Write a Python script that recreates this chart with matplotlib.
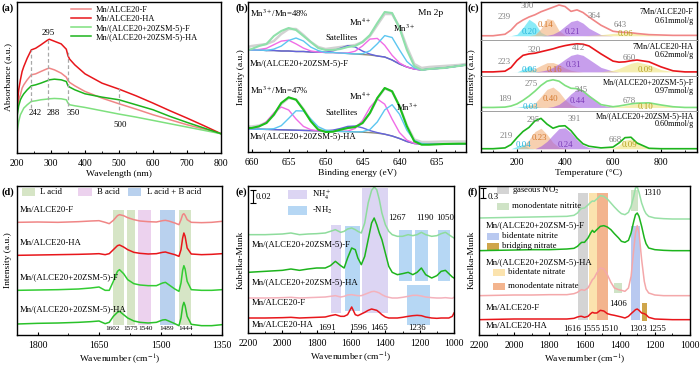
import matplotlib
matplotlib.use("Agg")
import matplotlib.pyplot as plt
from matplotlib.patches import Rectangle
from matplotlib.ticker import MultipleLocator

plt.rcParams["font.family"] = ["Liberation Serif", "DejaVu Serif"]
plt.rcParams["mathtext.fontset"] = "stix"

# ---------------------------------------------------------------------------
# colours
# ---------------------------------------------------------------------------
C_PINK = "#f08686"
C_RED = "#e8161b"
C_LGREEN = "#7ee07e"
C_GREEN = "#1db41d"

NAMES = ["Mn/ALCE20-F", "Mn/ALCE20-HA",
         "Mn/(ALCE20+20ZSM-5)-F", "Mn/(ALCE20+20ZSM-5)-HA"]

# ---------------------------------------------------------------------------
# (a) UV-vis
# ---------------------------------------------------------------------------
uv_nm = [200, 205, 210, 215, 220, 230, 242, 255, 270, 288, 295, 310, 330,
         345, 350, 355, 370, 400, 450, 500, 550, 600, 650, 700, 750, 800]
uv_alce_f = [125, 160, 175, 195, 205, 220, 235, 238, 245, 253, 255, 250, 240,
             228, 218, 212, 202, 185, 165, 148, 132, 115, 100, 85, 72, 58]
uv_alce_ha = [135, 190, 220, 245, 260, 285, 310, 315, 325, 338, 342, 336, 328,
              312, 292, 282, 265, 238, 210, 192, 172, 150, 127, 105, 82, 58]
uv_zsm_f = [60, 95, 115, 125, 135, 145, 155, 157, 160, 162, 163, 164, 163,
            160, 150, 145, 142, 137, 127, 117, 108, 98, 88, 78, 68, 58]
uv_zsm_ha = [110, 142, 160, 170, 178, 190, 202, 205, 210, 217, 220, 222, 220,
             215, 202, 198, 190, 178, 168, 160, 145, 130, 110, 92, 75, 58]
uv_dash_x = [242, 290, 350, 500]
uv_dash_lo = [135, 140, 140, 130]
uv_dash_hi = [310, 340, 310, 195]

# ---------------------------------------------------------------------------
# (b) XPS Mn 2p
# ---------------------------------------------------------------------------
be = [660.5, 660, 659, 658, 657, 656, 655, 654, 653, 652, 651, 650, 649, 648,
      647, 646, 645, 644, 643, 642, 641, 640, 639, 638, 637, 636, 634, 632, 631]
xf_env = [103, 104, 107, 109, 117, 122, 125, 123, 117, 111, 105, 103, 103, 104,
          106, 107, 111, 118, 130, 141, 140, 125, 103, 87, 83, 84, 85, 87, 88]
xf_raw = [106, 107, 108, 109, 112, 119, 124, 124, 118, 111, 106, 104, 105, 106,
          107, 108, 111, 117, 128, 139, 139, 126, 106, 89, 85, 86, 87, 88, 89]
xf_bg = [103, 103, 103, 102.5, 102.5, 102, 102, 101.5, 101.5, 101, 101, 100.5,
         100.5, 100, 99.5, 99, 98.5, 98, 97, 96, 93, 89, 86, 84, 83, 84, 85, 87, 88]
xf_mn4 = [103, 103, 103.5, 104.7, 108.3, 111.9, 112.8, 109.1, 104.9, 102, 101,
          100.5, 100.5, 100, 100, 101.8, 107.1, 113.9, 114.6, 107.7, 97.7, 90.1,
          86, 84, 83, 84, 85, 87, 88]
xf_mn3 = [103, 103, 103, 102.5, 103.9, 106.9, 112.5, 115, 112, 105.9, 102.4,
          100.5, 100.5, 100, 99.5, 99, 99.3, 102.2, 109.2, 117.4, 115.5, 103.1,
          91.5, 85.2, 83, 84, 85, 87, 88]
xf_sat = [103, 103, 103, 102.5, 102.5, 102, 102, 101.5, 101.5, 101, 101, 100.8,
          102.2, 104.8, 107.3, 106, 101.9, 98.9, 97, 96, 93, 89, 86, 84, 83, 84,
          85, 87, 88]
xh_env = [25, 25, 26.7, 30, 38.3, 50, 55.7, 53.3, 43.3, 31.7, 23.3, 21, 21.3,
          23.3, 25, 26, 30, 40, 55, 65, 61.7, 46.7, 26.7, 11.7, 8.3, 8.3, 9, 9.3, 9.3]
xh_raw = [26.5, 26.5, 27.5, 30.5, 38, 49, 55, 53.5, 44, 32.5, 24.5, 22, 22,
          23.5, 25, 26, 30, 40, 54.5, 64.5, 61.5, 47, 27.5, 13.5, 11, 11, 11.5,
          11.5, 11.5]
xh_bg = [24, 24, 23.8, 23.6, 23.4, 23.2, 23, 22.8, 22.6, 22.4, 22.2, 22, 21.8,
         21.6, 21.4, 21.1, 20.8, 20.4, 19.8, 18.8, 17, 14.5, 11.5, 9.5, 9, 9, 9,
         9.2, 9.3]
xh_mn4 = [24, 24, 26.1, 31.4, 40.1, 46, 43, 34, 26.6, 23.3, 22.2, 22, 21.8,
          21.6, 21.9, 24.6, 32.5, 45.6, 54, 48.8, 33.9, 20.5, 12.9, 9.6, 9, 9, 9,
          9.2, 9.3]
xh_mn3 = [24, 24, 23.8, 23.6, 24.3, 27.3, 34.6, 42.2, 42, 34, 26.3, 22.9, 21.8,
          21.6, 21.4, 21.1, 21.3, 23.5, 31.1, 43.1, 48.3, 38.8, 22.8, 12.6, 9.5,
          9, 9, 9.2, 9.3]
xh_sat = [24, 24, 23.8, 23.6, 23.4, 23.2, 23, 22.8, 22.6, 22.4, 22.2, 22.2,
          22.9, 24.5, 26.6, 27, 25.2, 22.4, 20.4, 18.8, 17, 14.5, 11.5, 9.5, 9, 9,
          9, 9.2, 9.3]

# ---------------------------------------------------------------------------
# (c) H2-TPR, four stacked profiles (fraction of each strip)
# ---------------------------------------------------------------------------
tpr_t = [50, 100, 150, 175, 200, 225, 250, 275, 300, 325, 350, 375, 400, 425,
         450, 475, 500, 550, 600, 625, 650, 675, 700, 750, 800, 850, 900, 950]
tpr_names = ["7Mn/ALCE20-F", "7Mn/ALCE20-HA",
             "Mn/(ALCE20+20ZSM-5)-F", "Mn/(ALCE20+20ZSM-5)-HA"]
tpr_uptake = ["0.61mmol/g", "0.62mmol/g", "0.97mmol/g", "0.60mmol/g"]
tpr_name_y = [(0.73, 0.5), (0.79, 0.57), (0.8, 0.57), (0.88, 0.69)]
tpr_base = [0.1, 0.1, 0.1, 0.08]
tpr_env = [
    [0.1, 0.1, 0.14, 0.25, 0.42, 0.52, 0.6, 0.66, 0.74, 0.8, 0.86, 0.92, 0.88,
     0.75, 0.79, 0.72, 0.6, 0.38, 0.22, 0.2, 0.19, 0.18, 0.16, 0.13, 0.12, 0.11,
     0.11, 0.11],
    [0.1, 0.1, 0.12, 0.22, 0.42, 0.56, 0.6, 0.62, 0.66, 0.7, 0.74, 0.79, 0.83,
     0.86, 0.88, 0.87, 0.82, 0.6, 0.4, 0.37, 0.38, 0.41, 0.43, 0.38, 0.24, 0.13,
     0.1, 0.1],
    [0.1, 0.1, 0.11, 0.14, 0.2, 0.3, 0.42, 0.56, 0.72, 0.84, 0.88, 0.84, 0.72,
     0.64, 0.63, 0.56, 0.42, 0.18, 0.12, 0.14, 0.17, 0.2, 0.22, 0.23, 0.17, 0.12,
     0.1, 0.1],
    [0.08, 0.08, 0.1, 0.18, 0.35, 0.5, 0.6, 0.76, 0.82, 0.68, 0.58, 0.63, 0.64,
     0.52, 0.34, 0.2, 0.14, 0.1, 0.12, 0.22, 0.35, 0.36, 0.22, 0.09, 0.08, 0.08,
     0.08, 0.08],
]
tpr_cyan = [
    [0, 0, 0, 0.003, 0.04, 0.22, 0.44, 0.33, 0.09, 0.009, 0, 0, 0, 0, 0, 0, 0,
     0, 0, 0, 0, 0, 0, 0, 0, 0, 0, 0],
    [0, 0, 0, 0, 0.002, 0.074, 0.17, 0.024, 0, 0, 0, 0, 0, 0, 0, 0, 0, 0, 0, 0,
     0, 0, 0, 0, 0, 0, 0, 0],
    [0, 0, 0, 0, 0.004, 0.037, 0.08, 0.037, 0.004, 0, 0, 0, 0, 0, 0, 0, 0, 0, 0,
     0, 0, 0, 0, 0, 0, 0, 0, 0],
    [0, 0, 0, 0, 0.054, 0.11, 0.014, 0, 0, 0, 0, 0, 0, 0, 0, 0, 0, 0, 0, 0, 0, 0,
     0, 0, 0, 0, 0, 0],
]
tpr_orange = [
    [0, 0, 0, 0, 0, 0, 0, 0.028, 0.19, 0.46, 0.42, 0.14, 0.017, 0, 0, 0, 0, 0,
     0, 0, 0, 0, 0, 0, 0, 0, 0, 0],
    [0, 0, 0, 0, 0, 0.01, 0.036, 0.095, 0.18, 0.255, 0.26, 0.2, 0.11, 0.045,
     0.014, 0, 0, 0, 0, 0, 0, 0, 0, 0, 0, 0, 0, 0],
    [0, 0, 0, 0, 0, 0.006, 0.035, 0.125, 0.31, 0.51, 0.575, 0.44, 0.225, 0.078,
     0.018, 0, 0, 0, 0, 0, 0, 0, 0, 0, 0, 0, 0, 0],
    [0, 0, 0, 0, 0, 0.07, 0.22, 0.42, 0.5, 0.35, 0.15, 0.035, 0.01, 0, 0, 0, 0,
     0, 0, 0, 0, 0, 0, 0, 0, 0, 0, 0],
]
tpr_purple = [
    [0, 0, 0, 0, 0, 0, 0, 0, 0, 0.012, 0.045, 0.125, 0.255, 0.38, 0.417, 0.336,
     0.2, 0.028, 0, 0, 0, 0, 0, 0, 0, 0, 0, 0],
    [0, 0, 0, 0, 0, 0, 0, 0, 0.022, 0.057, 0.125, 0.23, 0.35, 0.46, 0.5, 0.46,
     0.35, 0.125, 0.022, 0, 0, 0, 0, 0, 0, 0, 0, 0],
    [0, 0, 0, 0, 0, 0, 0, 0, 0, 0, 0.026, 0.087, 0.214, 0.384, 0.51, 0.49, 0.35,
     0.07, 0.004, 0, 0, 0, 0, 0, 0, 0, 0, 0],
    [0, 0, 0, 0, 0, 0, 0, 0, 0.07, 0.18, 0.34, 0.49, 0.51, 0.39, 0.22, 0.09,
     0.026, 0, 0, 0, 0, 0, 0, 0, 0, 0, 0, 0],
]
tpr_yellow = [
    [0, 0, 0, 0, 0, 0, 0, 0, 0, 0, 0, 0, 0, 0, 0, 0, 0.008, 0.029, 0.062, 0.075,
     0.08, 0.075, 0.062, 0.029, 0.008, 0, 0, 0],
    [0, 0, 0, 0, 0, 0, 0, 0, 0, 0, 0, 0, 0, 0, 0, 0, 0, 0.005, 0.045, 0.097,
     0.17, 0.24, 0.28, 0.2, 0.063, 0.009, 0, 0],
    [0, 0, 0, 0, 0, 0, 0, 0, 0, 0, 0, 0, 0, 0, 0, 0, 0, 0.001, 0.012, 0.028,
     0.053, 0.085, 0.115, 0.123, 0.066, 0.018, 0.002, 0],
    [0, 0, 0, 0, 0, 0, 0, 0, 0, 0, 0, 0, 0, 0, 0, 0, 0, 0, 0.02, 0.09, 0.21,
     0.24, 0.14, 0.006, 0, 0, 0, 0],
]
# peak-temperature labels and H2-consumption labels: (text, x, y)
tpr_peak_lbl = [
    [("239", 146, 0.61), ("300", 243, 0.9), ("364", 521, 0.63), ("643", 629, 0.38)],
    [("223", 146, 0.37), ("320", 271, 0.7), ("412", 458, 0.75), ("660", 667, 0.5)],
    [("189", 149, 0.33), ("275", 260, 0.76), ("345", 469, 0.59), ("678", 667, 0.29)],
    [("219", 153, 0.4), ("295", 268, 0.78), ("391", 440, 0.8), ("668", 611, 0.3)],
]
tpr_area_lbl = [
    [("0.20", 250, 0.2), ("0.14", 317, 0.38), ("0.21", 433, 0.2), ("0.06", 650, 0.16)],
    [("0.06", 250, 0.14), ("0.16", 354, 0.14), ("0.31", 437, 0.28), ("0.09", 736, 0.14)],
    [("0.03", 257, 0.11), ("0.40", 340, 0.33), ("0.44", 451, 0.29), ("0.10", 736, 0.11)],
    [("0.04", 225, 0.17), ("0.23", 294, 0.35), ("0.24", 403, 0.17), ("0.09", 667, 0.17)],
]
tpr_strip_px = [2, 39.5, 75.5, 111, 152]

# ---------------------------------------------------------------------------
# (d) pyridine-IR
# ---------------------------------------------------------------------------
py_wn = [1850, 1800, 1750, 1700, 1670, 1650, 1635, 1625, 1615, 1605, 1600,
         1590, 1580, 1565, 1550, 1530, 1510, 1495, 1488, 1480, 1465, 1455,
         1450, 1446, 1443, 1440, 1435, 1425, 1400, 1375, 1350]
py_alce_f = [338, 339, 338, 340, 342, 343, 338, 334, 344, 358, 361, 358, 352,
             346, 342, 340, 339, 343, 344, 342, 336, 331, 346, 361, 364, 359,
             346, 338, 337, 338, 341]
py_alce_ha = [239, 240, 241, 242, 243, 244, 241, 244, 256, 268, 270, 264, 256,
              248, 245, 243, 244, 248, 249, 246, 241, 236, 256, 291, 306, 296,
              261, 243, 241, 242, 244]
py_zsm_f = [134, 135, 136, 138, 141, 144, 134, 134, 161, 191, 196, 184, 166,
            154, 150, 148, 148, 156, 158, 151, 138, 131, 156, 194, 208, 198,
            161, 136, 134, 134, 136]
py_zsm_ha = [33, 35, 36, 38, 40, 42, 34, 38, 56, 68, 71, 61, 51, 42, 38, 36,
             38, 45, 46, 42, 34, 28, 51, 86, 98, 88, 56, 32, 28, 28, 31]
py_band_lo = [1589, 1562, 1523, 1465, 1426]
py_band_hi = [1616, 1582, 1555, 1501, 1455]
py_band_kind = ["L", "L", "B", "LB", "L"]
py_band_lbl = ["1602", "1575", "1540", "1489", "1444"]
py_band_lbl_x = [1617, 1574, 1537, 1484, 1440]

# ---------------------------------------------------------------------------
# (e) NH3-DRIFTS
# ---------------------------------------------------------------------------
nh_wn = [2200, 2100, 2000, 1950, 1900, 1850, 1800, 1750, 1720, 1691, 1660,
         1640, 1620, 1596, 1575, 1560, 1540, 1520, 1500, 1480, 1465, 1450,
         1435, 1420, 1400, 1380, 1360, 1330, 1300, 1267, 1240, 1215, 1190,
         1165, 1130, 1100, 1075, 1050, 1030, 1010, 1000]
nh_zsm_f = [295, 295, 297, 300, 295, 297, 298, 300, 305, 310, 302, 305, 312,
            315, 310, 305, 300, 330, 390, 428, 438, 430, 400, 360, 325, 305,
            295, 290, 290, 295, 292, 295, 302, 295, 290, 292, 298, 302, 295,
            288, 285]
nh_zsm_ha = [182, 185, 188, 192, 188, 192, 195, 195, 202, 215, 202, 195, 225,
             255, 250, 225, 205, 230, 280, 330, 345, 325, 300, 280, 240, 200,
             182, 175, 178, 182, 175, 182, 195, 175, 165, 172, 185, 188, 178,
             168, 165]
nh_alce_f = [105, 105, 106, 107, 105, 106, 107, 108, 110, 112, 108, 110, 114,
             115, 113, 112, 112, 116, 120, 124, 125, 123, 120, 115, 110, 107,
             105, 105, 107, 110, 113, 113, 111, 108, 106, 105, 105, 106, 105,
             104, 107]
nh_alce_ha = [45, 45, 46, 47, 45, 46, 47, 48, 52, 55, 50, 50, 55, 78, 55, 52,
              57, 62, 68, 72, 70, 68, 62, 55, 48, 45, 45, 45, 47, 50, 52, 53,
              52, 48, 45, 44, 45, 45, 45, 50, 60]
nh_band_lo = [1658, 1386, 1548, 1247, 1150, 1023, 1138]
nh_band_hi = [1716, 1538, 1635, 1320, 1227, 1095, 1276]
nh_band_ylo = [60, 60, 65, 155, 155, 155, 25]
nh_band_yhi = [325, 435, 320, 310, 310, 310, 145]
nh_band_kind = ["NH4", "NH4", "NH2", "NH2", "NH2", "NH2", "NH2"]

# ---------------------------------------------------------------------------
# (f) NO + O2 DRIFTS
# ---------------------------------------------------------------------------
no_wn = [2200, 2100, 2000, 1900, 1800, 1700, 1660, 1640, 1625, 1616, 1600,
         1580, 1565, 1555, 1545, 1530, 1510, 1490, 1470, 1450, 1430, 1406,
         1390, 1370, 1350, 1335, 1320, 1310, 1300, 1290, 1275, 1260, 1250,
         1235, 1200, 1150, 1100, 1050, 1000]
no_zsm_f = [351, 352, 353, 354, 355, 356, 359, 366, 376, 380, 381, 390, 398,
            402, 401, 408, 418, 416, 408, 396, 384, 371, 364, 361, 368, 386,
            416, 441, 444, 428, 396, 374, 364, 356, 351, 349, 348, 348, 348]
no_zsm_ha = [253, 254, 255, 256, 256, 258, 260, 266, 274, 278, 278, 291, 306,
             314, 308, 316, 326, 328, 324, 316, 304, 291, 281, 278, 284, 306,
             341, 361, 366, 356, 326, 291, 274, 261, 256, 254, 253, 253, 253]
no_alce_f = [118, 119, 120, 120, 121, 121, 124, 128, 134, 136, 134, 141, 156,
             166, 171, 186, 201, 198, 181, 158, 141, 136, 134, 131, 141, 176,
             256, 306, 328, 306, 226, 161, 138, 126, 120, 118, 118, 118, 118]
no_alce_ha = [46, 47, 48, 48, 48, 48, 50, 54, 56, 56, 53, 56, 64, 68, 66, 66,
              74, 72, 64, 61, 59, 56, 54, 51, 56, 64, 71, 76, 78, 74, 66, 64,
              61, 53, 48, 47, 46, 46, 46]
no_band_lo = [1578, 1530, 1467, 1293, 1388, 1283, 1245]
no_band_hi = [1635, 1574, 1530, 1335, 1435, 1335, 1274]
no_band_ylo = [46, 46, 46, 371, 126, 46, 41]
no_band_yhi = [426, 426, 426, 436, 156, 326, 96]
no_band_col = ["#d4d4d4", "#fbe3ae", "#f3b48e", "#cfe3c6", "#cfe3c6",
               "#b9c9f0", "#cfa54a"]
no_band_lbl = ["1616", "1555", "1510", "1303", "1255"]
no_band_lbl_x = [1671, 1563, 1461, 1296, 1188]

# ---------------------------------------------------------------------------
# figure
# ---------------------------------------------------------------------------
fig = plt.figure(figsize=(7, 3.66), dpi=100)


def box(l, t, r, b):
    return [l / 700, 1 - b / 366, (r - l) / 700, (b - t) / 366]


def style(ax, major, minor):
    ax.set_yticks([])
    ax.xaxis.set_major_locator(MultipleLocator(major))
    ax.xaxis.set_minor_locator(MultipleLocator(minor))
    ax.tick_params(axis="x", which="both", direction="in", labelsize=7, pad=4)
    ax.tick_params(axis="x", which="major", length=2.5, width=0.8)
    ax.tick_params(axis="x", which="minor", length=1.5, width=0.6)
    for s in ax.spines.values():
        s.set_linewidth(1.0)


TXT = 6.3
LBL = 6.8

# ---- (a) ----
ax = fig.add_axes(box(17, 2, 221, 153))
ax.plot(uv_nm, uv_alce_f, color=C_PINK, lw=1.1, label=NAMES[0])
ax.plot(uv_nm, uv_alce_ha, color=C_RED, lw=1.1, label=NAMES[1])
ax.plot(uv_nm, uv_zsm_f, color=C_LGREEN, lw=1.1, label=NAMES[2])
ax.plot(uv_nm, uv_zsm_ha, color=C_GREEN, lw=1.1, label=NAMES[3])
ax.vlines(uv_dash_x, uv_dash_lo, uv_dash_hi, colors="#a8a8a8",
          linestyles=(0, (3, 2)), lw=0.9)
ax.text(293, 360, "295", fontsize=TXT, ha="center", va="center")
for x, s in [(254, "242"), (308, "288"), (366, "350")]:
    ax.text(x, 120, s, fontsize=TXT, ha="center", va="center")
ax.text(503, 83, "500", fontsize=TXT, ha="center", va="center")
ax.legend(loc="upper left", bbox_to_anchor=(0.265, 0.975), frameon=False,
          fontsize=6.0, handlelength=2.4, handletextpad=0.5, labelspacing=0.12,
          borderpad=0, borderaxespad=0)
ax.set_xlim(200, 800)
ax.set_ylim(0, 454)
style(ax, 100, 50)
ax.set_xlabel("Wavelength (nm)", fontsize=LBL, labelpad=2)

# ---- (b) ----
ax = fig.add_axes(box(248, 2, 466, 152))
for env, raw, bg, mn4, mn3, sat, env_c in [
        (xf_env, xf_raw, xf_bg, xf_mn4, xf_mn3, xf_sat, "#8fe0aa"),
        (xh_env, xh_raw, xh_bg, xh_mn4, xh_mn3, xh_sat, "#1cc01c")]:
    ax.plot(be, raw, color="#d2d2d2", lw=1.8)
    ax.plot(be, bg, color="#8d8c78", lw=1.0)
    ax.plot(be, sat, color="#6464dc", lw=1.0)
    ax.plot(be, mn4, color="#f06ce6", lw=1.0)
    ax.plot(be, mn3, color="#5cc6f0", lw=1.0)
    ax.plot(be, env, color=env_c, lw=1.5)
ax.text(660.2, 140, r"Mn$^{3+}$/Mn=48%", fontsize=TXT, va="center")
ax.text(635.8, 140, "Mn 2p", fontsize=6.8, ha="center", va="center")
ax.text(645.3, 131, r"Mn$^{4+}$", fontsize=TXT, ha="center", va="center")
ax.text(639.4, 125, r"Mn$^{3+}$", fontsize=TXT, ha="center", va="center")
ax.text(647.8, 115, "Satellites", fontsize=TXT, ha="center", va="center")
ax.text(660.2, 90, NAMES[2], fontsize=TXT, va="center")
ax.text(660.2, 63, r"Mn$^{3+}$/Mn=47%", fontsize=TXT, va="center")
ax.text(645.3, 57, r"Mn$^{4+}$", fontsize=TXT, ha="center", va="center")
ax.text(639.0, 46, r"Mn$^{3+}$", fontsize=TXT, ha="center", va="center")
ax.text(647.8, 40, "Satellites", fontsize=TXT, ha="center", va="center")
ax.text(660.2, 17, NAMES[3], fontsize=TXT, va="center")
ax.set_xlim(660.5, 631)
ax.set_ylim(1, 151)
style(ax, 5, 2.5)
ax.set_xlabel("Binding energy (eV)", fontsize=LBL, labelpad=2)

# ---- (c) ----
env_cols = [C_PINK, C_RED, C_LGREEN, C_GREEN]
fill_cols = ["#3fdff2", "#f3b27c", "#a25ee0", "#efe47c"]
txt_cols = ["#22b4dc", "#d4782c", "#7a3ab8", "#b4a020"]
for i in range(4):
    ax = fig.add_axes(box(481, tpr_strip_px[i], 697, tpr_strip_px[i + 1]))
    t = tpr_t
    b = tpr_base[i]
    for comp, fc in zip([tpr_cyan[i], tpr_orange[i], tpr_purple[i],
                         tpr_yellow[i]], fill_cols):
        ax.fill_between(t, b, [b + v for v in comp], color=fc, alpha=0.6, lw=0)
    ax.plot(t, tpr_env[i], color=env_cols[i], lw=1.2)
    for s, x, y in tpr_peak_lbl[i]:
        ax.text(x, y, s, fontsize=TXT, color="#808080", ha="center", va="center")
    for (s, x, y), tc in zip(tpr_area_lbl[i], txt_cols):
        ax.text(x, y, s, fontsize=TXT, color=tc, ha="center", va="center")
    ax.text(0.985, tpr_name_y[i][0], tpr_names[i], transform=ax.transAxes,
            fontsize=5.9, ha="right", va="center")
    ax.text(0.985, tpr_name_y[i][1], tpr_uptake[i], transform=ax.transAxes,
            fontsize=5.9, ha="right", va="center")
    ax.set_xlim(50, 950)
    ax.set_ylim(0, 1)
    style(ax, 200, 100)
    if i > 0:
        ax.spines["top"].set_color("#a0a0a0")
        ax.spines["top"].set_linewidth(0.7)
    if i < 3:
        ax.spines["bottom"].set_color("#a0a0a0")
        ax.spines["bottom"].set_linewidth(0.7)
        ax.tick_params(axis="x", which="both", bottom=False, labelbottom=False)
    else:
        ax.set_xlabel("Temperature (\u00b0C)", fontsize=LBL, labelpad=2)

# ---- (d) ----
ax = fig.add_axes(box(17, 186, 222, 335))
band_c = {"L": "#d6e5c6", "B": "#ecd2ee", "LB": "#b9d1ee"}
for lo, hi, k in zip(py_band_lo, py_band_hi, py_band_kind):
    ax.axvspan(lo, hi, ymin=0.07, ymax=0.84, color=band_c[k], lw=0)
ax.plot(py_wn, py_alce_f, color=C_PINK, lw=1.1)
ax.plot(py_wn, py_alce_ha, color=C_RED, lw=1.1)
ax.plot(py_wn, py_zsm_f, color="#33cc33", lw=1.1)
ax.plot(py_wn, py_zsm_ha, color="#2ac22a", lw=1.1)
for s, y in zip(NAMES, [376, 276, 173, 78]):
    ax.text(1843, y, s, fontsize=TXT, va="center")
for s, x in zip(py_band_lbl, py_band_lbl_x):
    ax.text(x, 19, s, fontsize=5.2, ha="center", va="center")
for x0, x1, k, s in [(0.024, 0.112, "L", "L acid"), (0.298, 0.39, "B", "B acid"),
                     (0.541, 0.634, "LB", "L acid + B acid")]:
    ax.add_patch(Rectangle((x0, 0.933), 0.066, 0.054, transform=ax.transAxes,
                           color=band_c[k], lw=0))
    ax.text(x1, 0.962, s, transform=ax.transAxes, fontsize=TXT, va="center")
ax.set_xlim(1850, 1350)
ax.set_ylim(0, 447)
style(ax, 150, 75)
ax.set_xlabel("Wavenumber (cm$^{-1}$)", fontsize=LBL, labelpad=2)

# ---- (e) ----
ax = fig.add_axes(box(248, 186, 454, 333))
nh_c = {"NH4": "#dcd5f3", "NH2": "#b6d7f4"}
for lo, hi, y0, y1, k in zip(nh_band_lo, nh_band_hi, nh_band_ylo, nh_band_yhi,
                             nh_band_kind):
    ax.axvspan(lo, hi, ymin=y0 / 441, ymax=y1 / 441, color=nh_c[k], lw=0)
ax.plot(nh_wn, nh_zsm_f, color="#8edc9c", lw=1.1)
ax.plot(nh_wn, nh_zsm_ha, color=C_GREEN, lw=1.1)
ax.plot(nh_wn, nh_alce_f, color="#f4b2bc", lw=1.1)
ax.plot(nh_wn, nh_alce_ha, color=C_RED, lw=1.1)
for s, y in zip([NAMES[2], NAMES[3], NAMES[0], NAMES[1]], [265, 152, 90, 25]):
    ax.text(2177, y, s, fontsize=TXT, va="center")
for s, x in [("1267", 1335), ("1190", 1170), ("1050", 1053)]:
    ax.text(x, 345, s, fontsize=TXT, ha="center", va="center")
for s, x in [("1691", 1737), ("1596", 1559), ("1465", 1437), ("1236", 1216)]:
    ax.text(x, 16, s, fontsize=TXT, ha="center", va="center")
ax.errorbar([2169], [410], yerr=[20], color="k", lw=0.8, capsize=2,
            capthick=0.8)
ax.text(2155, 408, "0.02", fontsize=TXT, va="center")
for y0, k, s, ys in [(0.912, "NH4", r"NH$_4^+$", 0.94),
                     (0.803, "NH2", r"-NH$_2$", 0.835)]:
    ax.add_patch(Rectangle((0.194, y0), 0.092, 0.061, transform=ax.transAxes,
                           color=nh_c[k], lw=0))
    ax.text(0.311, ys, s, transform=ax.transAxes, fontsize=TXT, va="center")
ax.set_xlim(2200, 1000)
ax.set_ylim(0, 441)
style(ax, 200, 100)
ax.set_xlabel("Wavenumber (cm$^{-1}$)", fontsize=LBL, labelpad=2)

# ---- (f) ----
ax = fig.add_axes(box(479, 186, 690, 335))
for lo, hi, y0, y1, c in zip(no_band_lo, no_band_hi, no_band_ylo, no_band_yhi,
                             no_band_col):
    ax.axvspan(lo, hi, ymin=y0 / 447, ymax=y1 / 447, color=c, lw=0)
ax.plot(no_wn, no_zsm_f, color="#98e0a6", lw=1.1)
ax.plot(no_wn, no_zsm_ha, color=C_GREEN, lw=1.1)
ax.plot(no_wn, no_alce_f, color="#f4a8aa", lw=1.1)
ax.plot(no_wn, no_alce_ha, color=C_RED, lw=1.1)
for s, y in zip([NAMES[2], NAMES[3], NAMES[0], NAMES[1]],
                [0.738, 0.49, 0.18, 0.06]):
    ax.text(0.03, y, s, transform=ax.transAxes, fontsize=TXT, va="center")
for s, x in zip(no_band_lbl, no_band_lbl_x):
    ax.text(x, 19, s, fontsize=TXT, ha="center", va="center")
ax.text(1409, 93, "1406", fontsize=TXT, ha="center", va="center")
ax.text(1216, 426, "1310", fontsize=TXT, ha="center", va="center")
ax.errorbar([2177], [427], yerr=[15], color="k", lw=0.8, capsize=2,
            capthick=0.8)
ax.text(0.04, 0.925, "0.3", transform=ax.transAxes, fontsize=TXT, va="center")
for x0, y0, c, s in [
        (0.085, 0.945, "#d4d4d4", r"gaseous NO$_2$"),
        (0.085, 0.839, "#cfe3c6", "monodentate nitrite"),
        (0.038, 0.638, "#b9c9f0", "bidentate nitrite"),
        (0.038, 0.570, "#cfa54a", "bridging nitrate"),
        (0.066, 0.396, "#fbe3ae", "bidentate nitrate"),
        (0.066, 0.302, "#f3b48e", "monodentate nitrate")]:
    ax.add_patch(Rectangle((x0, y0), 0.055, 0.047, transform=ax.transAxes,
                           color=c, lw=0))
    ax.text(x0 + 0.072, y0 + 0.025, s, transform=ax.transAxes, fontsize=TXT,
            va="center")
ax.set_xlim(2200, 1000)
ax.set_ylim(0, 447)
style(ax, 200, 100)
ax.set_xlabel("Wavenumber (cm$^{-1}$)", fontsize=LBL, labelpad=2)

# ---- panel letters and y labels ----
for s, x, y in [("(a)", 2, 8), ("(b)", 236, 8), ("(c)", 467, 8),
                ("(d)", 2, 192), ("(e)", 236, 192), ("(f)", 467, 192)]:
    fig.text(x / 700, 1 - y / 366, s, fontsize=7.5, fontweight="bold",
             va="center")
for s, x, y in [("Absorbance (a.u.)", 8, 77), ("Intensity (a.u.)", 241, 77),
                ("Intensity (a.u.)", 472, 77), ("Intensity (a.u.)", 8, 260),
                ("Kubelka-Munk", 241, 260), ("Kubelka-Munk", 472, 260)]:
    fig.text(x / 700, 1 - y / 366, s, fontsize=LBL, rotation=90,
             ha="center", va="center")

fig.savefig("out.png", dpi=100)
